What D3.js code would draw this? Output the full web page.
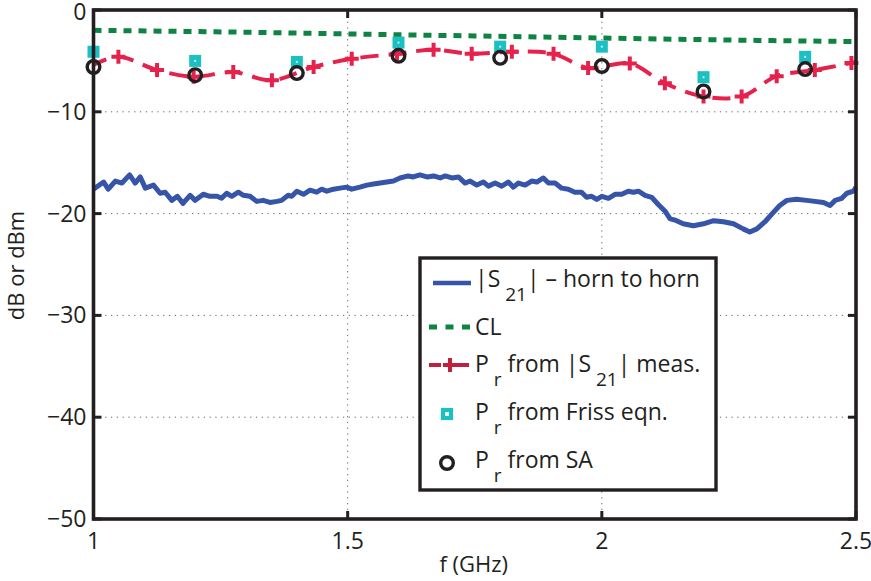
<!DOCTYPE html>
<html>
<head>
<meta charset="utf-8">
<script src="https://cdn.jsdelivr.net/npm/d3@7/dist/d3.min.js"></script>
<style>
  html, body { margin: 0; padding: 0; background: #fff; }
  svg text { font-family: "Open Sans", Lato, sans-serif; fill: #231f20; }
</style>
</head>
<body>
<svg id="chart" width="871" height="581"></svg>
<script>
// |S21| horn-to-horn measurement: [f (GHz), dB]
const s21 = [
  [1.000,-17.6],[1.020,-16.9],[1.029,-17.6],[1.043,-16.8],[1.056,-17.0],[1.071,-16.2],
  [1.082,-17.0],[1.092,-16.4],[1.102,-17.5],[1.118,-17.2],[1.131,-18.0],[1.141,-17.9],
  [1.154,-18.7],[1.165,-18.3],[1.176,-19.0],[1.190,-18.2],[1.200,-18.7],[1.216,-18.1],
  [1.229,-18.3],[1.243,-18.3],[1.252,-18.5],[1.262,-18.0],[1.272,-18.3],[1.285,-17.9],
  [1.295,-18.2],[1.308,-18.3],[1.321,-18.8],[1.334,-18.7],[1.347,-18.9],[1.361,-18.8],
  [1.370,-18.7],[1.383,-18.2],[1.390,-18.3],[1.400,-17.8],[1.413,-18.1],[1.426,-17.7],
  [1.439,-17.9],[1.449,-17.6],[1.459,-17.8],[1.472,-17.6],[1.485,-17.5],[1.498,-17.4],
  [1.508,-17.6],[1.524,-17.4],[1.538,-17.2],[1.551,-17.1],[1.564,-17.0],[1.577,-16.9],
  [1.590,-16.8],[1.603,-16.5],[1.619,-16.3],[1.629,-16.4],[1.642,-16.2],[1.656,-16.4],
  [1.669,-16.3],[1.682,-16.5],[1.692,-16.3],[1.705,-16.5],[1.718,-16.4],[1.731,-17.0],
  [1.741,-16.8],[1.754,-17.2],[1.767,-16.9],[1.777,-17.3],[1.790,-17.0],[1.803,-17.3],
  [1.816,-16.9],[1.826,-17.4],[1.836,-17.0],[1.849,-17.2],[1.862,-16.8],[1.872,-16.9],
  [1.885,-16.5],[1.895,-17.0],[1.908,-17.0],[1.921,-17.5],[1.934,-17.6],[1.947,-17.9],
  [1.960,-17.9],[1.970,-18.4],[1.980,-18.3],[1.990,-18.6],[2.000,-18.3],[2.013,-18.5],
  [2.026,-18.1],[2.039,-18.1],[2.052,-17.8],[2.062,-17.9],[2.072,-17.8],[2.085,-18.2],
  [2.098,-18.4],[2.111,-19.1],[2.125,-19.8],[2.134,-20.5],[2.147,-20.7],[2.160,-21.0],
  [2.180,-21.2],[2.200,-21.0],[2.220,-20.7],[2.239,-20.8],[2.259,-21.0],[2.278,-21.5],
  [2.291,-21.8],[2.305,-21.5],[2.321,-20.8],[2.337,-19.9],[2.350,-19.2],[2.364,-18.7],
  [2.383,-18.6],[2.403,-18.7],[2.419,-18.8],[2.436,-18.9],[2.449,-19.2],[2.459,-18.7],
  [2.472,-18.5],[2.482,-18.0],[2.495,-17.8],[2.500,-17.4]
];

// CL (cable loss), dB
const cl = [
  [1.00,-2.0],[1.25,-2.15],[1.50,-2.35],[1.75,-2.55],[2.00,-2.75],[2.25,-2.95],[2.50,-3.1]
];

// Pr derived from |S21| measurement, dBm (ends anchor the curve at the axis limits)
const prMeas = [
  [1.000,-5.4],[1.049,-4.6],[1.125,-5.9],[1.197,-6.55],[1.275,-6.1],[1.351,-6.9],
  [1.433,-5.6],[1.508,-4.8],[1.597,-4.3],[1.669,-3.9],[1.744,-4.3],[1.823,-4.1],
  [1.905,-4.3],[1.973,-5.7],[2.055,-5.25],[2.124,-7.2],[2.200,-8.5],[2.275,-8.5],
  [2.344,-6.5],[2.419,-5.9],[2.491,-5.2],[2.500,-5.1]
];

// Pr from the Friis equation, dBm
const friisFreq = [1.0, 1.2, 1.4, 1.6, 1.8, 2.0, 2.2, 2.4];
const friisVal  = [-4.1, -5.0, -5.1, -3.2, -3.6, -3.6, -6.6, -4.6];

// Pr from spectrum analyser, dBm
const saFreq = [1.0, 1.2, 1.4, 1.6, 1.8, 2.0, 2.2, 2.4];
const saVal  = [-5.6, -6.4, -6.2, -4.5, -4.7, -5.5, -8.0, -5.8];

const xTicks = [1, 1.5, 2, 2.5];
const yTicks = [0, -10, -20, -30, -40, -50];

const svg = d3.select("#chart");
const L = 93.5, R = 856, T = 10, B = 519;
const x = d3.scaleLinear().domain([1, 2.5]).range([L, R]);
const y = d3.scaleLinear().domain([-50, 0]).range([B, T]);

const colBlue = "#3654a8", colGreen = "#0f8442", colRed = "#e5224c",
      colCyan = "#1cbfc2", colInk = "#231f20";

// dotted grid
const grid = svg.append("g");
grid.selectAll("line.gx").data(xTicks.slice(1, -1)).join("line")
  .attr("x1", d => x(d)).attr("x2", d => x(d)).attr("y1", T).attr("y2", B)
  .attr("stroke", "#6d6d6d").attr("stroke-width", 1).attr("stroke-dasharray", "1.3,4.5");
grid.selectAll("line.gy").data(yTicks.slice(1, -1)).join("line")
  .attr("y1", d => y(d)).attr("y2", d => y(d)).attr("x1", L).attr("x2", R)
  .attr("stroke", "#6d6d6d").attr("stroke-width", 1).attr("stroke-dasharray", "1.3,4.5");

// series
const plot = svg.append("g");

plot.append("path").datum(s21)
  .attr("d", d3.line().x(d => x(d[0])).y(d => y(d[1])))
  .attr("fill", "none").attr("stroke", colBlue).attr("stroke-width", 5)
  .attr("stroke-linejoin", "round");

plot.append("path").datum(cl)
  .attr("d", d3.line().x(d => x(d[0])).y(d => y(d[1])).curve(d3.curveMonotoneX))
  .attr("fill", "none").attr("stroke", colGreen).attr("stroke-width", 5)
  .attr("stroke-dasharray", "8,7");

plot.append("path").datum(prMeas)
  .attr("d", d3.line().x(d => x(d[0])).y(d => y(d[1])).curve(d3.curveCatmullRom))
  .attr("fill", "none").attr("stroke", colRed).attr("stroke-width", 4)
  .attr("stroke-dasharray", "18,10").attr("stroke-dashoffset", 4);

const plusPath = s => `M${-s},0H${s}M0,${-s}V${s}`;
plot.selectAll("path.plus").data(prMeas.slice(1, -1)).join("path")
  .attr("transform", d => `translate(${x(d[0])},${y(d[1])})`)
  .attr("d", plusPath(7))
  .attr("stroke", colRed).attr("stroke-width", 4).attr("fill", "none");

plot.selectAll("rect.friis").data(friisFreq).join("rect")
  .attr("x", d => x(d) - 3.5).attr("y", (d, i) => y(friisVal[i]) - 3.5)
  .attr("width", 7).attr("height", 7)
  .attr("fill", "#bfeeee").attr("stroke", colCyan).attr("stroke-width", 5);

plot.selectAll("circle.sa").data(saFreq).join("circle")
  .attr("cx", d => x(d)).attr("cy", (d, i) => y(saVal[i])).attr("r", 6.3)
  .attr("fill", "none").attr("stroke", colInk).attr("stroke-width", 3.4);

// frame and inward ticks
const frame = svg.append("g");
frame.append("rect").attr("x", L).attr("y", T).attr("width", R - L).attr("height", B - T)
  .attr("fill", "none").attr("stroke", colInk).attr("stroke-width", 3.6);
const tk = 8;
xTicks.forEach(v => {
  frame.append("line").attr("x1", x(v)).attr("x2", x(v)).attr("y1", B).attr("y2", B - tk)
    .attr("stroke", colInk).attr("stroke-width", 3);
  frame.append("line").attr("x1", x(v)).attr("x2", x(v)).attr("y1", T).attr("y2", T + tk)
    .attr("stroke", colInk).attr("stroke-width", 3);
});
yTicks.forEach(v => {
  frame.append("line").attr("x1", L).attr("x2", L + tk).attr("y1", y(v)).attr("y2", y(v))
    .attr("stroke", colInk).attr("stroke-width", 3);
  frame.append("line").attr("x1", R).attr("x2", R - tk).attr("y1", y(v)).attr("y2", y(v))
    .attr("stroke", colInk).attr("stroke-width", 3);
});

// tick labels
const fmt = v => (v < 0 ? "\u2212" + Math.abs(v) : String(v));
svg.append("g").selectAll("text").data(xTicks).join("text")
  .attr("x", d => x(d)).attr("y", B + 30).attr("text-anchor", "middle")
  .attr("font-size", 23).text(d => d);
svg.append("g").selectAll("text").data(yTicks).join("text")
  .attr("x", L - 7).attr("y", d => y(d) + (d === 0 ? 10 : 8)).attr("text-anchor", "end")
  .attr("font-size", 23).text(fmt);

// axis titles
svg.append("text").attr("x", (L + R) / 2 - 1).attr("y", 572).attr("text-anchor", "middle")
  .attr("font-size", 22).text("f (GHz)");
svg.append("text").attr("transform", `translate(24,${(T + B) / 2 + 1}) rotate(-90)`)
  .attr("text-anchor", "middle").attr("font-size", 22).text("dB or dBm");

// legend
const lg = svg.append("g");
lg.append("rect").attr("x", 420).attr("y", 258).attr("width", 296).attr("height", 232)
  .attr("fill", "#fff").attr("stroke", colInk).attr("stroke-width", 3.4);

const sx0 = 429, sx1 = 471, tx = 475;
const rows = [287, 335, 372, 420, 468];

lg.append("line").attr("x1", sx0 + 4).attr("x2", sx1).attr("y1", rows[0] - 4).attr("y2", rows[0] - 4)
  .attr("stroke", colBlue).attr("stroke-width", 4.5);
lg.append("line").attr("x1", sx0).attr("x2", sx1).attr("y1", rows[1] - 8).attr("y2", rows[1] - 8)
  .attr("stroke", colGreen).attr("stroke-width", 5).attr("stroke-dasharray", "8,8.5");
lg.append("line").attr("x1", sx0).attr("x2", sx1).attr("y1", rows[2] - 7).attr("y2", rows[2] - 7)
  .attr("stroke", "#c21f3c").attr("stroke-width", 4).attr("stroke-dasharray", "12,4,8,4,12");
lg.append("path").attr("transform", `translate(${(sx0 + sx1) / 2},${rows[2] - 7})`)
  .attr("d", plusPath(7)).attr("stroke", "#c21f3c").attr("stroke-width", 4);
lg.append("rect").attr("x", 447 - 4).attr("y", rows[3] - 6 - 4).attr("width", 8).attr("height", 8)
  .attr("fill", "#fff").attr("stroke", colCyan).attr("stroke-width", 4.2);
lg.append("circle").attr("cx", 447).attr("cy", rows[4] - 5).attr("r", 6.3)
  .attr("fill", "none").attr("stroke", colInk).attr("stroke-width", 3.4);

const sub = (t, s) => t.append("tspan").attr("font-size", 19).attr("dy", 14).text(s);
const up = (t, s) => t.append("tspan").attr("dy", -14).text(s);

let t = lg.append("text").attr("x", tx).attr("y", rows[0]).attr("font-size", 23);
t.append("tspan").text("|S");
sub(t, " 21");
up(t, "| \u2013 horn to horn");

lg.append("text").attr("x", tx).attr("y", rows[1]).attr("font-size", 23).text("CL");

t = lg.append("text").attr("x", tx).attr("y", rows[2]).attr("font-size", 23);
t.append("tspan").text("P");
sub(t, " r");
up(t, " from |S");
sub(t, " 21");
up(t, "| meas.");

t = lg.append("text").attr("x", tx).attr("y", rows[3]).attr("font-size", 23);
t.append("tspan").text("P");
sub(t, " r");
up(t, " from Friss eqn.");

t = lg.append("text").attr("x", tx).attr("y", rows[4]).attr("font-size", 23);
t.append("tspan").text("P");
sub(t, " r");
up(t, " from SA");
</script>
</body>
</html>
